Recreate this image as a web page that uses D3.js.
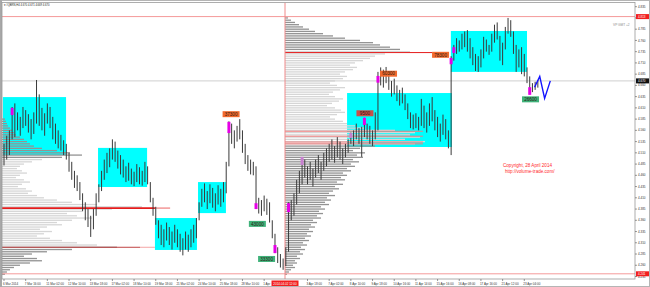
<!DOCTYPE html>
<html><head><meta charset="utf-8">
<script src="https://cdn.jsdelivr.net/npm/d3@7"></script>
<style>html,body{margin:0;padding:0;background:#fff}svg{display:block}text{font-family:"Liberation Sans",Arial,sans-serif}</style>
</head><body><svg id="c" width="650" height="287"></svg>
<script>
// ---- price bars (H4), high / low ----
const barHigh = [4.530,4.548,4.560,4.612,4.620,4.600,4.590,4.612,4.605,4.596,4.585,4.600,4.672,4.640,4.610,4.598,4.620,4.612,4.590,4.575,4.560,4.550,4.538,
4.530,4.510,4.490,4.470,4.460,4.445,4.420,4.400,4.385,4.370,4.385,4.420,
4.440,4.470,4.495,4.510,4.520,4.540,4.535,4.515,4.505,4.495,4.480,4.488,4.475,4.468,4.485,4.478,4.470,4.490,4.480,
4.445,4.410,4.390,
4.360,4.350,4.340,4.355,4.345,4.335,4.350,4.340,4.330,4.320,4.335,4.328,4.340,4.350,4.365,
4.400,4.430,4.442,4.425,4.440,4.432,4.420,4.438,4.430,4.445,
4.490,4.580,4.575,4.560,4.570,4.585,4.560,4.530,4.505,4.495,4.490,4.480,4.410,4.405,4.415,4.408,4.400,4.360,4.330,4.300,4.285,4.275,
4.300,4.400,4.405,4.420,4.450,4.470,4.500,4.495,4.480,4.490,4.475,4.495,4.505,4.490,
4.510,4.520,4.530,4.540,4.525,4.545,4.535,4.520,4.530,4.540,
4.555,4.560,4.575,4.565,4.568,4.588,4.575,4.570,4.560,4.600,4.690,4.700,4.695,4.701,4.690,4.670,4.675,4.660,4.650,4.655,4.640,4.620,4.600,4.595,4.598,4.590,4.630,4.615,4.600,4.620,4.634,4.605,4.590,4.575,4.595,4.585,4.560,4.725,
4.750,4.765,4.760,4.775,4.780,4.783,4.765,4.745,4.730,4.725,4.740,4.768,4.762,4.750,4.775,4.795,4.800,4.770,4.755,4.790,4.810,4.805,4.780,4.750,4.740,4.745,4.730,4.700,4.680,4.665,4.668,4.672];
const barLow = [4.482,4.495,4.505,4.540,4.545,4.560,4.548,4.565,4.570,4.555,4.540,4.552,4.575,4.570,4.560,4.548,4.575,4.565,4.540,4.530,4.520,4.515,4.505,
4.495,4.468,4.450,4.432,4.425,4.405,4.380,4.360,4.345,4.323,4.340,4.370,
4.400,4.425,4.450,4.465,4.478,4.495,4.490,4.475,4.462,4.455,4.445,4.448,4.440,4.436,4.445,4.440,4.437,4.445,4.440,
4.400,4.370,4.350,
4.320,4.305,4.300,4.315,4.305,4.295,4.310,4.300,4.290,4.282,4.295,4.290,4.300,4.310,4.320,
4.360,4.390,4.400,4.385,4.398,4.388,4.380,4.395,4.390,4.400,
4.420,4.480,4.530,4.520,4.535,4.540,4.510,4.485,4.470,4.462,4.460,4.385,4.375,4.370,4.380,4.372,4.355,4.320,4.287,4.265,4.255,4.250,
4.258,4.290,4.360,4.370,4.395,4.420,4.440,4.455,4.440,4.450,4.435,4.455,4.465,4.450,
4.470,4.480,4.490,4.495,4.488,4.500,4.495,4.485,4.500,4.510,
4.530,4.525,4.540,4.530,4.501,4.545,4.540,4.530,4.525,4.540,4.560,4.660,4.655,4.665,4.650,4.635,4.640,4.625,4.615,4.620,4.605,4.585,4.565,4.562,4.565,4.560,4.570,4.565,4.555,4.570,4.580,4.560,4.545,4.535,4.550,4.540,4.520,4.505,
4.715,4.730,4.735,4.740,4.745,4.735,4.720,4.705,4.692,4.690,4.700,4.720,4.735,4.728,4.735,4.755,4.762,4.715,4.705,4.740,4.775,4.768,4.730,4.690,4.700,4.685,4.680,4.665,4.640,4.645,4.650,4.655];

// ---- consolidation boxes (bar index span, price span) ----
const boxStart  = [-0.4, 34.7, 55.7, 71.6, 126.6, 164.9];
const boxEnd    = [22.9, 52.8, 71.2, 81.9, 165.3, 193.0];
const boxTop    = [4.634, 4.521, 4.365, 4.445, 4.643, 4.781];
const boxBottom = [4.505, 4.434, 4.294, 4.376, 4.523, 4.690];

// ---- volume profiles (relative volume per 0.005 price level, top to bottom) ----
const profStep = 0.005;
const prof1Top = 4.585, prof1StartBar = -0.75;
const prof1Vol = [3,4,5,6,8,10,12,14,18,22, 25,28,32,40,55,68,80,60,40,30,
 22,18,15,20,25,18,14,22,28,20, 16,24,30,26,35,42,55,70,95,140,
 110,80,65,75,90,70,55,60,45,38, 50,42,35,48,60,75,95,115,70,45,
 30,22,35,40,28,18,12,8,5,3];
const prof1DarkBands = [[4.500, 4.590], [4.238, 4.300]];
const prof2Top = 4.810, prof2StartBar = 103.7;
const prof2Vol = [3,6,10,14,18,24,30,38,48,60, 75,88,95,105,115,125,100,90,85,78,
 70,65,72,68,60,55,62,58,50,45, 52,60,55,48,44,50,58,54,47,42,
 50,56,60,52,45,50,58,62,70,80, 110,130,125,135,120,140,130,90,75,68,
 80,72,78,68,74,66,70,62,66,58, 62,56,60,52,58,50,54,48,44,50,
 42,46,40,44,36,40,34,38,32,36, 28,32,26,30,24,28,22,26,20,24,
 18,22,16,20,15,18,12,15,10,12, 8,10,6,4,2];
const prof2DarkBands = [[4.737, 4.815], [4.238, 4.525]];

// ---- horizontal levels: price, from bar, to bar, faded extension to bar, kind ----
const levelPrice  = [4.813, 4.241, 4.387, 4.300, 4.733, 4.558, 4.547, 4.534, 4.530];
const levelFrom   = [-1, -1, -0.75, -0.75, 103.7, 103.7, 103.7, 103.7, 103.7];
const levelTo     = [234, 234, 55.7, 50.2, 158.0, 154.6, 154.6, 154.6, 154.6];
const levelFadeTo = [234, 234, 61.3, 55.7, 158.0, 154.6, 154.6, 154.6, 154.6];
const levelKind   = ["edge","edge","poc","poc2","poc","va","va","va","va"];
const sessionSplitBar = 103.7;
const lastPrice = 4.670;

// ---- big-volume bar markers ----
const markBar = [3, 83, 93, 100, 105, 110, 128, 133, 138, 165, 166, 194];
const markHi  = [4.610, 4.579, 4.398, 4.305, 4.398, 4.501, 4.554, 4.588, 4.681, 4.721, 4.745, 4.656];
const markLo  = [4.594, 4.554, 4.385, 4.287, 4.378, 4.483, 4.543, 4.572, 4.666, 4.707, 4.732, 4.639];
const markDim = [false,false,false,false,false,true,true,false,false,false,false,false];

// ---- volume annotations ----
const noteText  = ["37300","43000","33300","9500","60300","78300","26600"];
const noteBar   = [83.8, 93.5, 96.9, 133.2, 141.9, 161.1, 194.3];
const notePrice = [4.596, 4.352, 4.274, 4.598, 4.686, 4.728, 4.629];
const noteKind  = ["sell","buy","buy","mid","sell","sell","buy"];

// ---- projection ----
const projBar   = [195.8, 197.7, 199.5, 201.6];
const projPrice = [4.656, 4.680, 4.631, 4.670];

// ---- axes ----
const priceTicks = [4.835,4.810,4.785,4.760,4.735,4.710,4.685,4.660,4.635,4.610,4.585,4.560,4.535,4.510,4.485,4.460,4.435,4.410,4.385,4.360,4.335,4.310,4.285,4.260,4.235];
const timeTickBars = [0,8,16,24,32,40,48,56,64,72,80,88,96,112,120,128,136,144,152,160,168,176,184,192];
const timeLabels = ["6 Mar 2014","7 Mar 16:00","11 Mar 02:00","12 Mar 10:00","13 Mar 18:00","17 Mar 02:00","18 Mar 10:00","19 Mar 18:00","21 Mar 02:00","24 Mar 10:00","25 Mar 18:00","28 Mar 10:00","1 Apr","3 Apr 18:00","7 Apr 02:00","8 Apr 10:00","9 Apr 18:00","10 Apr 16:00","11 Apr 14:00","15 Apr 16:00","16 Apr 08:00","17 Apr 16:00","21 Apr 12:00","23 Apr 04:00"];
const splitLabel = "2014.04.02 12:00";
const titleText = "\u25BE #QBRN,H4  4.670 4.671 4.669 4.670";

// ================= drawing =================
const svg = d3.select('#c');
const x = d3.scaleLinear().domain([0, 233]).range([4, 635.4]);
const y = d3.scaleLinear().domain([4.235, 4.835]).range([276.5, 6.7]);
const P = {l: 2, r: 635, t: 2.5, b: 279};

svg.append('rect').attr('width', 650).attr('height', 287).attr('fill', '#fff');
svg.append('defs').append('clipPath').attr('id', 'pc').append('rect')
  .attr('x', P.l).attr('y', P.t).attr('width', P.r - P.l).attr('height', P.b - P.t);
const g = svg.append('g').attr('clip-path', 'url(#pc)');

// boxes
g.append('g').selectAll('rect').data(boxStart).join('rect')
  .attr('x', d => x(d)).attr('width', (d, i) => x(boxEnd[i]) - x(d))
  .attr('y', (d, i) => y(boxTop[i])).attr('height', (d, i) => y(boxBottom[i]) - y(boxTop[i]))
  .attr('fill', '#00ffff');

// profiles
const volW = d3.scaleLinear().domain([0, 100]).range([0, 100]);
function drawProfile(top, vols, startBar, bands) {
  const inBand = p => bands.some(b => p >= b[0] - 1e-9 && p <= b[1] + 1e-9);
  g.append('g').selectAll('rect').data(vols).join('rect')
    .attr('x', x(startBar))
    .attr('y', (v, k) => y(top - k * profStep) - 0.65)
    .attr('height', 1.3)
    .attr('width', v => volW(v))
    .attr('fill', (v, k) => inBand(top - k * profStep) ? '#939393' : '#d6d6d6');
}
drawProfile(prof1Top, prof1Vol, prof1StartBar, prof1DarkBands);
drawProfile(prof2Top, prof2Vol, prof2StartBar, prof2DarkBands);

// levels
const lv = g.append('g');
levelPrice.forEach((p, i) => {
  const k = levelKind[i];
  if (levelFadeTo[i] > levelTo[i]) {
    lv.append('line').attr('x1', x(levelTo[i])).attr('x2', x(levelFadeTo[i]))
      .attr('y1', y(p)).attr('y2', y(p)).attr('stroke', '#f4a6a6').attr('stroke-width', k === 'poc' ? 1.6 : 1);
  }
  lv.append('line').attr('x1', x(levelFrom[i])).attr('x2', x(levelTo[i]))
    .attr('y1', y(p)).attr('y2', y(p))
    .attr('stroke', k === 'edge' ? '#f59a9a' : k === 'poc' ? '#e51c1c' : k === 'poc2' ? '#c04444' : '#ef7d7d')
    .attr('stroke-width', k === 'poc' && i === 2 ? 1.8 : 1);
});
lv.append('line').attr('x1', x(-1)).attr('x2', x(234)).attr('y1', y(lastPrice)).attr('y2', y(lastPrice))
  .attr('stroke', '#cfcfcf').attr('stroke-width', 1);
lv.append('line').attr('x1', x(sessionSplitBar)).attr('x2', x(sessionSplitBar)).attr('y1', P.t).attr('y2', P.b)
  .attr('stroke', '#f08a8a').attr('stroke-width', 1);

// bars
g.append('g').selectAll('line').data(barHigh).join('line')
  .attr('x1', (d, i) => x(i)).attr('x2', (d, i) => x(i))
  .attr('y1', d => y(d)).attr('y2', (d, i) => y(barLow[i]))
  .attr('stroke', '#3a3a3a').attr('stroke-width', 1);

// markers
g.append('g').selectAll('rect').data(markBar).join('rect')
  .attr('x', d => x(d) - 1.5).attr('width', 3)
  .attr('y', (d, i) => y(markHi[i])).attr('height', (d, i) => y(markLo[i]) - y(markHi[i]))
  .attr('fill', (d, i) => markDim[i] ? '#c77fcf' : '#e600e6');

// notes
const noteFill = {sell: '#f26a2e', buy: '#3fb27a', mid: '#c9504a'};
const notes = g.append('g').selectAll('g').data(noteText).join('g')
  .attr('transform', (d, i) => `translate(${x(noteBar[i])},${y(notePrice[i])})`);
notes.append('rect').attr('x', -8.5).attr('y', -3).attr('width', 17).attr('height', 6)
  .attr('fill', (d, i) => noteFill[noteKind[i]]);
notes.append('text').attr('text-anchor', 'middle').attr('y', 1.7).attr('font-size', 4.6)
  .attr('fill', '#2a1a10').text(d => d);

// projection
g.append('path').datum(projBar).attr('fill', 'none').attr('stroke', '#1414ff').attr('stroke-width', 1.4)
  .attr('d', d3.line().x(d => x(d)).y((d, i) => y(projPrice[i])));

// copyright
svg.append('text').attr('x', 503).attr('y', 166.5).attr('font-size', 4.6).attr('fill', '#ff2a2a').text('Copyright, 28 April 2014');
svg.append('text').attr('x', 505).attr('y', 172.5).attr('font-size', 4.6).attr('fill', '#ff2a2a').text('http://volume-trade.com/');
svg.append('text').attr('x', 613).attr('y', 25.5).attr('font-size', 3.2).attr('fill', '#8a8a8a').text('VP GMT +2');
svg.append('text').attr('x', 3.5).attr('y', 6).attr('font-size', 2.7).attr('fill', '#222').text(titleText);

// frame
svg.append('rect').attr('x', 0.5).attr('y', 0.5).attr('width', 649).attr('height', 286).attr('fill', 'none').attr('stroke', '#b5b5b5');
svg.append('rect').attr('x', 0).attr('y', 0).attr('width', 2).attr('height', 287).attr('fill', '#a8a8a8');
svg.append('rect').attr('x', P.l).attr('y', P.t).attr('width', P.r - P.l).attr('height', P.b - P.t)
  .attr('fill', 'none').attr('stroke', '#9a9a9a').attr('stroke-width', 0.8);

// price axis
const ay = svg.append('g');
ay.selectAll('line').data(priceTicks).join('line')
  .attr('x1', P.r).attr('x2', P.r + 2).attr('y1', d => y(d)).attr('y2', d => y(d)).attr('stroke', '#555').attr('stroke-width', 0.6);
ay.selectAll('text').data(priceTicks).join('text')
  .attr('x', P.r + 3).attr('y', d => y(d) + 1.1).attr('font-size', 3).attr('fill', '#333').text(d => d.toFixed(3));
function priceTag(p, fill) {
  ay.append('rect').attr('x', P.r + 1).attr('y', y(p) - 2.5).attr('width', 13).attr('height', 5).attr('fill', fill);
  ay.append('text').attr('x', P.r + 3).attr('y', y(p) + 1.1).attr('font-size', 3).attr('fill', '#fff').text(p.toFixed(3));
}
priceTag(levelPrice[0], '#f21f1f');
priceTag(lastPrice, '#111');
priceTag(levelPrice[1], '#f21f1f');

// time axis
const ax = svg.append('g');
ax.selectAll('line').data(timeTickBars).join('line')
  .attr('x1', d => x(d)).attr('x2', d => x(d)).attr('y1', P.b).attr('y2', P.b + 2).attr('stroke', '#555').attr('stroke-width', 0.6);
ax.selectAll('text').data(timeLabels).join('text')
  .attr('x', (d, i) => x(timeTickBars[i]) - 1).attr('y', 284.5).attr('font-size', 3).attr('fill', '#333').text(d => d);
ax.append('rect').attr('x', x(sessionSplitBar) - 13.5).attr('y', 280.5).attr('width', 27).attr('height', 5.5).attr('fill', '#f21f1f');
ax.append('text').attr('x', x(sessionSplitBar)).attr('y', 284.5).attr('text-anchor', 'middle').attr('font-size', 3).attr('fill', '#fff').text(splitLabel);
</script>
</body></html>
